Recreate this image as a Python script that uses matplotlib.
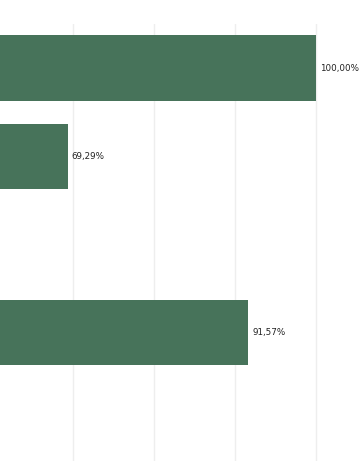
import numpy as np
import matplotlib
matplotlib.use("Agg")
import matplotlib.pyplot as plt

# category slots (labels sit off the visible crop), empty slots are NaN
categories = ["A", "B", "C", "D", "E"]
values = [100.00, 69.29, np.nan, 91.57, np.nan]
grid_ticks = [70, 80, 90, 100]

BAR_COLOR = "#47735a"

fig = plt.figure(figsize=(3.6, 4.61), dpi=100)
# axes top at 24 px, runs to the bottom edge
ax = fig.add_axes([0, 0, 1, 1 - 24 / 461])

y = np.arange(len(categories))
ax.barh(y, values, height=0.74, color=BAR_COLOR, zorder=3)

for yi, v in zip(y, values):
    if np.isnan(v):
        continue
    ax.annotate(f"{v:.2f}%".replace(".", ","), (v, yi), xytext=(2.8, 0),
                textcoords="offset points", va="center", ha="left",
                fontsize=6.3, color="#222222", zorder=4)

ax.set_xlim(60.93, 105.37)
ax.set_ylim(4.46, -0.5)
ax.set_xticks(grid_ticks)
ax.grid(axis="x", color="#eeeeee", linewidth=1, zorder=0)
ax.tick_params(length=0, labelbottom=False, labelleft=False)
for s in ax.spines.values():
    s.set_visible(False)

fig.savefig("out.png", dpi=100)
